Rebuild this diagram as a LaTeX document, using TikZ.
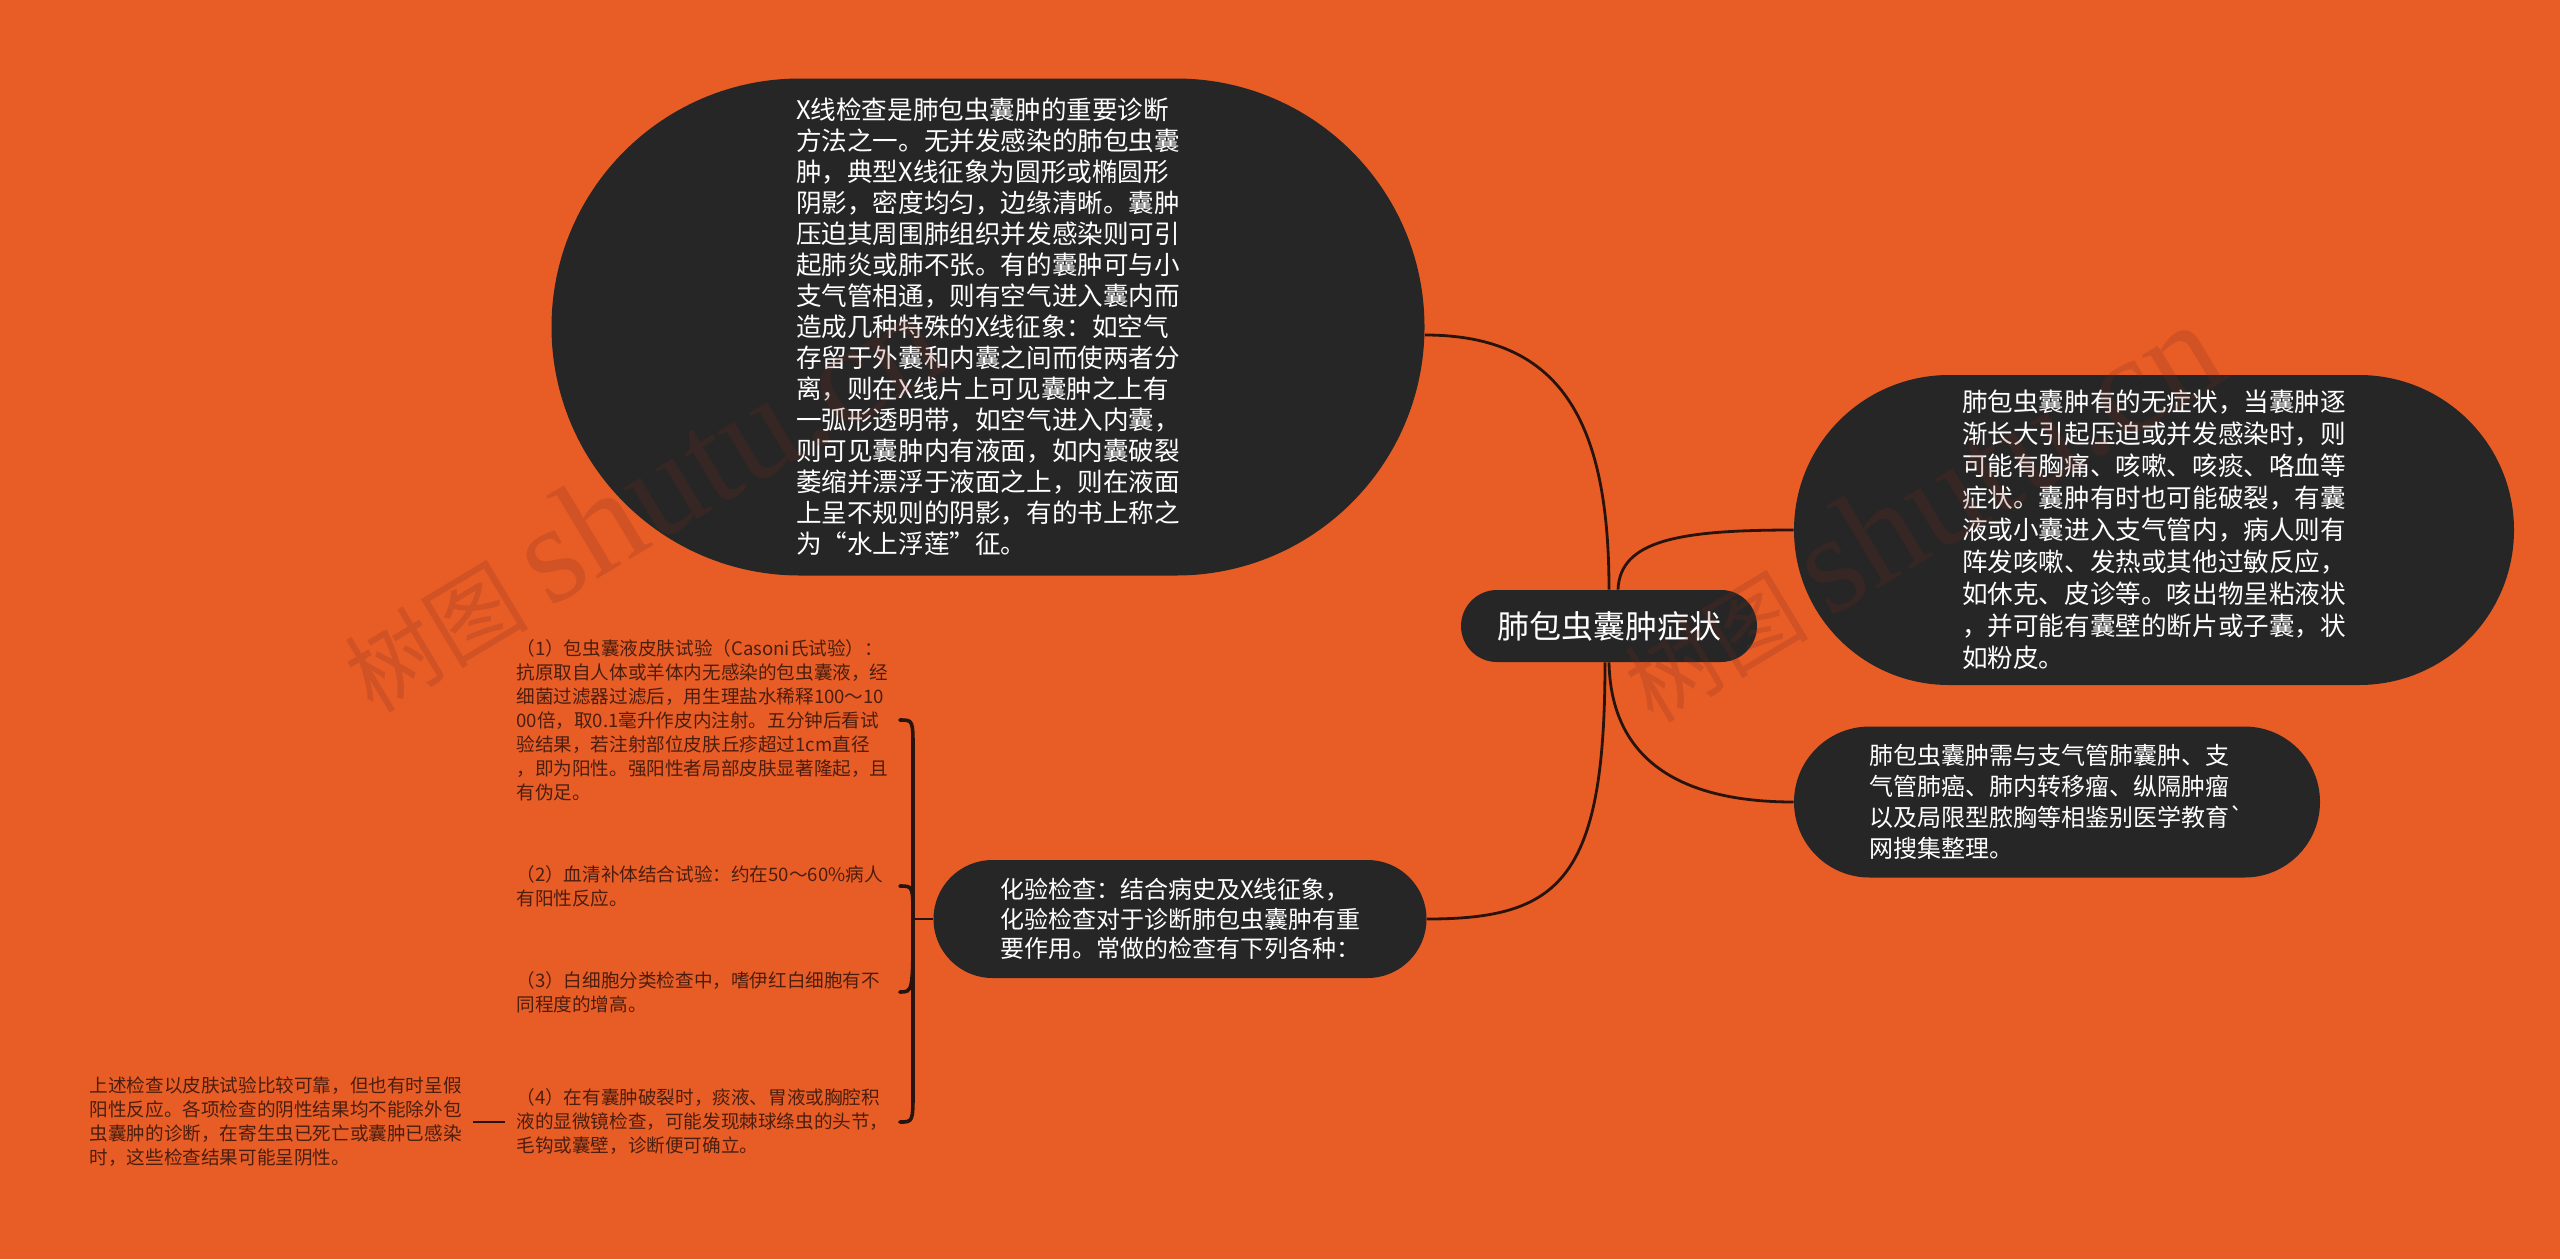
\documentclass[tikz,border=0pt]{standalone}
\usepackage{fontspec}
\setmainfont{Noto Sans CJK SC}[Ligatures=TeXOff]
\newfontfamily\wmlatin{Liberation Serif}
\usetikzlibrary{shapes.misc}
\definecolor{bg}{RGB}{232,93,38}
\definecolor{topicfill}{RGB}{38,38,38}
\definecolor{linecol}{RGB}{40,20,12}
\definecolor{subtext}{RGB}{75,30,15}
\definecolor{wmcol}{RGB}{120,40,30}
\tikzset{
  topic/.style={shape=rounded rectangle, fill=topicfill, text=white, align=left, inner sep=0pt, font=\fontsize{12.8}{15.5}\selectfont},
  subitem/.style={text=subtext, text width=186pt, align=left, inner sep=5.5pt, font=\fontsize{9.3}{12}\selectfont},
  branch/.style={draw=linecol, line width=1.4pt},
  brace/.style={draw=linecol, line width=1.8pt, line cap=round},
  watermark/.style={text=wmcol, opacity=0.2, rotate=31}
}

\begin{document}
\begin{tikzpicture}[x=0.5pt,y=-0.5pt]
\fill[bg] (0,0) rectangle (2560,1259);
\useasboundingbox (0,0) rectangle (2560,1259);

\node[topic, minimum width=148pt, minimum height=36pt, font=\fontsize{16}{19}\selectfont] (root) at (1609,626) {肺包虫囊肿症状};

\node[topic, minimum width=436.5pt, minimum height=248.5pt] (xray) at (988,327) {X线检查是肺包虫囊肿的重要诊断\\方法之一。无并发感染的肺包虫囊\\肿，典型X线征象为圆形或椭圆形\\阴影，密度均匀，边缘清晰。囊肿\\压迫其周围肺组织并发感染则可引\\起肺炎或肺不张。有的囊肿可与小\\支气管相通，则有空气进入囊内而\\造成几种特殊的X线征象：如空气\\存留于外囊和内囊之间而使两者分\\离，则在X线片上可见囊肿之上有\\一弧形透明带，如空气进入内囊，\\则可见囊肿内有液面，如内囊破裂\\萎缩并漂浮于液面之上，则在液面\\上呈不规则的阴影，有的书上称之\\为“水上浮莲”征。};

\node[topic, minimum width=360pt, minimum height=155pt, font=\fontsize{12.8}{16}\selectfont] (symp) at (2154,530) {肺包虫囊肿有的无症状，当囊肿逐\\渐长大引起压迫或并发感染时，则\\可能有胸痛、咳嗽、咳痰、咯血等\\症状。囊肿有时也可能破裂，有囊\\液或小囊进入支气管内，病人则有\\阵发咳嗽、发热或其他过敏反应，\\如休克、皮诊等。咳出物呈粘液状\\，并可能有囊壁的断片或子囊，状\\如粉皮。};

\node[topic, minimum width=263pt, minimum height=75.5pt, font=\fontsize{12}{15.5}\selectfont] (diff) at (2057,802) {肺包虫囊肿需与支气管肺囊肿、支\\气管肺癌、肺内转移瘤、纵隔肿瘤\\以及局限型脓胸等相鉴别医学教育`\\网搜集整理。};

\node[topic, minimum width=246.5pt, minimum height=59pt, font=\fontsize{12}{14.8}\selectfont] (lab) at (1180,919) {化验检查：结合病史及X线征象，\\化验检查对于诊断肺包虫囊肿有重\\要作用。常做的检查有下列各种：};

\node[subitem, anchor=west] (c1) at (505,720) {（1）包虫囊液皮肤试验（Casoni氏试验）：\\抗原取自人体或羊体内无感染的包虫囊液，经\\细菌过滤器过滤后，用生理盐水稀释100～10\\00倍，取0.1毫升作皮内注射。五分钟后看试\\验结果，若注射部位皮肤丘疹超过1cm直径\\，即为阳性。强阳性者局部皮肤显著隆起，且\\有伪足。};
\node[subitem, anchor=west] (c2) at (505,886) {（2）血清补体结合试验：约在50～60\%病人\\有阳性反应。};
\node[subitem, anchor=west] (c3) at (505,992) {（3）白细胞分类检查中，嗜伊红白细胞有不\\同程度的增高。};
\node[subitem, anchor=west] (c4) at (505,1122) {（4）在有囊肿破裂时，痰液、胃液或胸腔积\\液的显微镜检查，可能发现棘球绦虫的头节，\\毛钩或囊壁，诊断便可确立。};
\node[subitem, anchor=east] (note) at (473,1122) {上述检查以皮肤试验比较可靠，但也有时呈假\\阳性反应。各项检查的阴性结果均不能除外包\\虫囊肿的诊断，在寄生虫已死亡或囊肿已感染\\时，这些检查结果可能呈阴性。};

\draw[branch] (root.north) .. controls (1609,420) and (1560,335) .. ([yshift=-4pt]xray.east);
\draw[branch] ([xshift=4.5pt]root.north) .. controls (1620,540) and (1680,530) .. (symp.west);
\draw[branch] (root.south) .. controls (1611,760) and (1680,802) .. (diff.west);
\draw[branch] ([xshift=-2pt]root.south) .. controls (1605,880) and (1560,919) .. (lab.east);

\coordinate (fork) at (913,919);
\draw[branch] (lab.west) -- (fork);
\draw[brace] (c1.east) .. controls (913,720) .. (913,750) -- (fork) -- (913,1090) .. controls (913,1122) .. (c4.east);
\draw[brace] (c2.east) .. controls (913,886) .. (fork);
\draw[brace] (c3.east) .. controls (913,992) .. (fork);
\draw[branch] (c4.west) -- (note.east);

\node[watermark] (wm1) at (640,502) {\fontsize{46}{46}\selectfont 树图 {\wmlatin\fontsize{70}{70}\selectfont shutu.cn}};
\node[watermark] (wm2) at (1920,512) {\fontsize{46}{46}\selectfont 树图 {\wmlatin\fontsize{70}{70}\selectfont shutu.cn}};
\end{tikzpicture}
\end{document}
